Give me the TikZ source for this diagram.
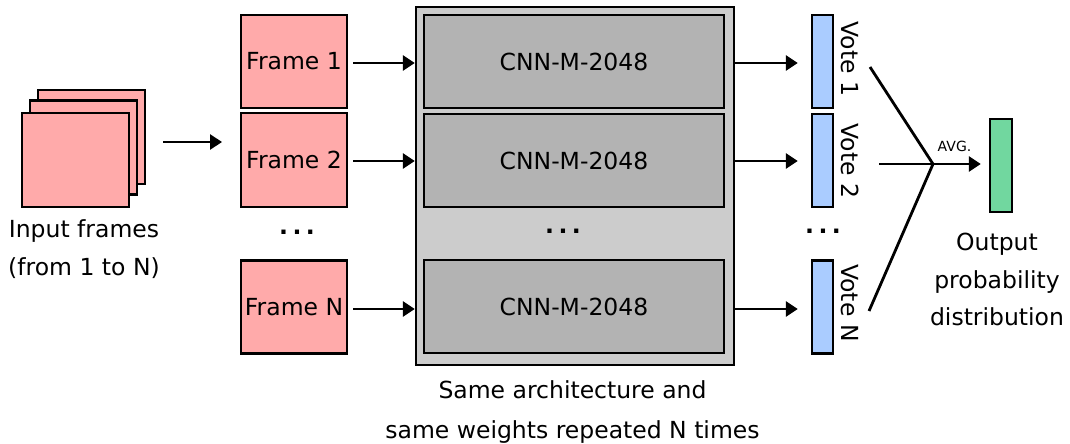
\documentclass[tikz,border=0pt]{standalone}
\usepackage{fontspec}
\setmainfont{DejaVu Sans}
\usetikzlibrary{arrows.meta}
\definecolor{framepink}{HTML}{FFAAAA}
\definecolor{votesblue}{HTML}{AACCFF}
\definecolor{outgreen}{HTML}{71D79F}
\definecolor{sharedgray}{HTML}{CCCCCC}
\definecolor{cnngray}{HTML}{B3B3B3}
\begin{document}
\begin{tikzpicture}[x=1pt,y=-1pt,
  every node/.style={font=\fontsize{23.5}{28}\selectfont, inner sep=0pt},
  framebox/.style={draw=black, line width=2.8pt, fill=framepink,
    minimum width=106pt, minimum height=93pt},
  cnnbox/.style={draw=black, line width=2.4pt, fill=cnngray,
    minimum width=300pt, minimum height=93pt},
  votebox/.style={draw=black, line width=2.4pt, fill=votesblue,
    minimum width=21pt, minimum height=93pt},
  votelabel/.style={rotate=-90},
  flow/.style={line width=2.8pt, -{Triangle[length=12pt,width=15pt]}},
  plainline/.style={line width=2.8pt},
  dots/.style={font=\fontsize{23.5}{28}\selectfont\bfseries}]
\useasboundingbox (0,0) rectangle (1070,444);

% stack of input frames
\node[framebox, minimum width=107pt, minimum height=94pt] (stk3) at (91.5,137) {};
\node[framebox, minimum width=107pt, minimum height=94pt] (stk2) at (83.5,147.5) {};
\node[framebox, minimum width=107pt, minimum height=94pt] (stk1) at (75.5,160) {};
\node[anchor=base] (inlab1) at (84,237) {Input frames};
\node[anchor=base] (inlab2) at (84,275) {(from 1 to N)};

% individual frames
\node[framebox] (f1) at (294,61.5) {Frame 1};
\node[framebox, minimum height=94pt] (f2) at (294,160) {Frame 2};
\node[framebox] (fn) at (294,307) {Frame N};
\node[dots] (fdots) at (297,232) {.\hspace{4.5pt}.\hspace{4.5pt}.};

% shared network block
\node[draw=black, line width=2.4pt, fill=sharedgray,
  minimum width=318pt, minimum height=358pt] (shared) at (575,186) {};
\node[cnnbox] (c1) at (574,61.5) {CNN-M-2048};
\node[cnnbox] (c2) at (574,160.5) {CNN-M-2048};
\node[cnnbox] (cn) at (574,306.5) {CNN-M-2048};
\node[dots] (cdots) at (563,231) {.\hspace{4.5pt}.\hspace{4.5pt}.};
\node[anchor=base] (shlab1) at (572.5,398) {Same architecture and};
\node[anchor=base] (shlab2) at (572.5,438) {same weights repeated N times};

% votes
\node[votebox] (v1) at (822.5,61.5) {};
\node[votebox] (v2) at (822.5,160.5) {};
\node[votebox] (vn) at (822.5,307) {};
\node[votelabel] (vl1) at (850,59) {Vote 1};
\node[votelabel] (vl2) at (850,161) {Vote 2};
\node[votelabel] (vln) at (850,303) {Vote N};
\node[dots] (vdots) at (823,231) {.\hspace{4.5pt}.\hspace{4.5pt}.};

% averaged output
\node[draw=black, line width=2.4pt, fill=outgreen,
  minimum width=22pt, minimum height=93pt] (out) at (1001,165.5) {};
\node[font=\fontsize{14}{16}\selectfont, anchor=base] (avg) at (954.5,151) {AVG.};
\node[anchor=base] (outlab1) at (997,250) {Output};
\node[anchor=base] (outlab2) at (997,288) {probability};
\node[anchor=base] (outlab3) at (997,325) {distribution};

% connectors
\coordinate (inA) at (163,142);
\coordinate (inB) at (222,142);
\draw[flow] (inA) -- (inB);

\draw[flow] ([xshift=5pt]f1.east |- 0,63) -- (shared.west |- 0,63);
\draw[flow] ([xshift=5pt]f2.east |- 0,161) -- (shared.west |- 0,161);
\draw[flow] ([xshift=5pt]fn.east |- 0,309) -- (shared.west |- 0,309);

\draw[flow] (shared.east |- 0,63) -- ([xshift=-13pt]v1.west |- 0,63);
\draw[flow] (shared.east |- 0,161) -- ([xshift=-13pt]v2.west |- 0,161);
\draw[flow] (shared.east |- 0,309) -- ([xshift=-13pt]vn.west |- 0,309);

\coordinate (join) at (933,164);
\coordinate (fromv1) at (870,67);
\coordinate (fromv2) at (879,164);
\coordinate (fromvn) at (869,311);
\draw[plainline] (fromv1) -- (join) -- (fromvn);
\draw[flow] (fromv2) -- ([xshift=-8pt]out.west |- join);
\end{tikzpicture}
\end{document}
